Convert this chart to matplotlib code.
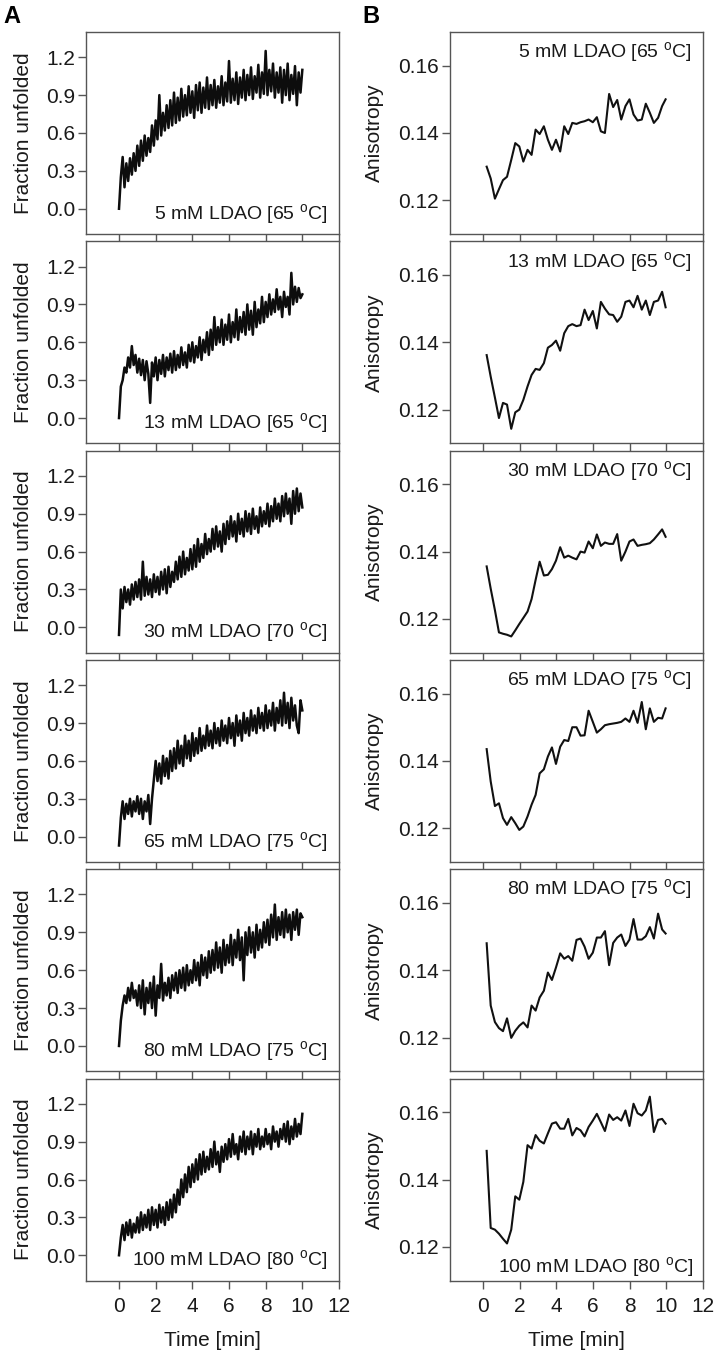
import matplotlib.pyplot as plt
import numpy as np

plt.rcParams['font.family'] = ['Liberation Sans', 'DejaVu Sans']
plt.rcParams['mathtext.fontset'] = 'custom'
plt.rcParams['mathtext.rm'] = 'Liberation Sans'
plt.rcParams['mathtext.it'] = 'Liberation Sans:italic'

conc = ['5', '13', '30', '65', '80', '100']
temps = ['65', '65', '70', '75', '75', '80']

# fraction unfolded traces, sampled every 0.1 min from 0 to 10 min
unf_step = 0.1
unf_5 = [0.00, 0.25, 0.41, 0.17, 0.36, 0.22, 0.40, 0.27, 0.44, 0.30,
         0.50, 0.34, 0.54, 0.38, 0.58, 0.42, 0.56, 0.45, 0.66, 0.50,
         0.70, 0.55, 0.90, 0.58, 0.76, 0.62, 0.82, 0.64, 0.86, 0.66,
         0.92, 0.68, 0.88, 0.70, 0.95, 0.73, 0.90, 0.74, 0.97, 0.76,
         0.93, 0.72, 0.98, 0.78, 1.00, 0.76, 0.96, 0.80, 1.04, 0.79,
         0.98, 0.82, 1.02, 0.80, 0.97, 0.84, 1.05, 0.82, 1.00, 0.85,
         1.17, 0.84, 1.03, 0.86, 1.08, 0.83, 1.04, 0.88, 1.10, 0.86,
         1.06, 0.90, 1.12, 0.87, 1.05, 0.92, 1.14, 0.88, 1.08, 0.91,
         1.25, 0.90, 1.10, 0.93, 1.15, 0.88, 1.08, 0.92, 1.12, 0.84,
         1.10, 0.90, 1.15, 0.86, 1.06, 0.91, 1.13, 0.82, 1.08, 0.92,
         1.10]
unf_13 = [0.00, 0.25, 0.30, 0.40, 0.36, 0.48, 0.40, 0.57, 0.42, 0.50,
          0.36, 0.47, 0.34, 0.46, 0.30, 0.45, 0.35, 0.12, 0.44, 0.33,
          0.48, 0.30, 0.46, 0.35, 0.50, 0.33, 0.48, 0.38, 0.51, 0.36,
          0.53, 0.38, 0.50, 0.40, 0.56, 0.42, 0.52, 0.40, 0.58, 0.45,
          0.60, 0.44, 0.57, 0.48, 0.64, 0.46, 0.62, 0.52, 0.68, 0.50,
          0.70, 0.54, 0.80, 0.58, 0.72, 0.60, 0.78, 0.58, 0.74, 0.62,
          0.82, 0.60, 0.76, 0.64, 0.86, 0.62, 0.80, 0.68, 0.84, 0.66,
          0.90, 0.70, 0.85, 0.66, 0.92, 0.72, 0.86, 0.75, 0.96, 0.76,
          0.92, 0.80, 0.98, 0.82, 0.94, 0.84, 1.02, 0.86, 0.96, 0.80,
          1.00, 0.88, 0.96, 0.82, 1.15, 0.90, 1.04, 0.92, 1.03, 0.95,
          0.98]
unf_30 = [-0.06, 0.30, 0.15, 0.32, 0.20, 0.30, 0.18, 0.34, 0.22, 0.36,
          0.24, 0.38, 0.22, 0.52, 0.25, 0.40, 0.26, 0.38, 0.24, 0.42,
          0.28, 0.40, 0.26, 0.44, 0.30, 0.46, 0.27, 0.48, 0.32, 0.44,
          0.36, 0.52, 0.38, 0.56, 0.40, 0.60, 0.42, 0.55, 0.45, 0.62,
          0.46, 0.65, 0.48, 0.70, 0.52, 0.66, 0.55, 0.74, 0.58, 0.70,
          0.60, 0.78, 0.62, 0.80, 0.64, 0.76, 0.60, 0.82, 0.66, 0.84,
          0.70, 0.88, 0.72, 0.84, 0.68, 0.90, 0.74, 0.86, 0.72, 0.92,
          0.76, 0.90, 0.74, 0.94, 0.78, 0.88, 0.75, 0.95, 0.80, 0.92,
          0.82, 0.98, 0.80, 0.96, 0.84, 1.02, 0.86, 0.98, 0.84, 1.04,
          0.88, 1.06, 0.90, 1.02, 0.82, 1.08, 0.90, 1.10, 0.92, 1.06,
          0.95]
unf_65 = [-0.07, 0.15, 0.28, 0.14, 0.26, 0.18, 0.30, 0.16, 0.28, 0.20,
          0.32, 0.18, 0.30, 0.14, 0.28, 0.20, 0.33, 0.10, 0.30, 0.45,
          0.60, 0.44, 0.58, 0.42, 0.64, 0.48, 0.62, 0.46, 0.68, 0.52,
          0.70, 0.54, 0.76, 0.58, 0.72, 0.56, 0.80, 0.62, 0.76, 0.60,
          0.82, 0.64, 0.78, 0.66, 0.86, 0.68, 0.80, 0.70, 0.88, 0.72,
          0.84, 0.70, 0.90, 0.74, 0.86, 0.72, 0.92, 0.76, 0.88, 0.74,
          0.94, 0.78, 0.90, 0.72, 0.96, 0.80, 0.92, 0.76, 0.98, 0.82,
          0.94, 0.80, 1.00, 0.84, 0.96, 0.82, 1.02, 0.86, 0.98, 0.84,
          1.04, 0.86, 1.00, 0.88, 1.06, 0.84, 1.02, 0.90, 1.08, 0.88,
          1.14, 0.90, 1.06, 0.86, 1.10, 0.92, 1.04, 0.88, 0.82, 1.08,
          1.00]
unf_80 = [0.00, 0.20, 0.32, 0.40, 0.34, 0.46, 0.36, 0.50, 0.38, 0.44,
          0.32, 0.48, 0.30, 0.52, 0.25, 0.46, 0.34, 0.50, 0.30, 0.55,
          0.24, 0.48, 0.38, 0.65, 0.36, 0.50, 0.40, 0.54, 0.38, 0.56,
          0.44, 0.58, 0.42, 0.60, 0.46, 0.62, 0.44, 0.64, 0.48, 0.60,
          0.50, 0.68, 0.52, 0.66, 0.48, 0.72, 0.56, 0.70, 0.54, 0.75,
          0.58, 0.76, 0.60, 0.82, 0.62, 0.78, 0.58, 0.84, 0.64, 0.80,
          0.66, 0.88, 0.64, 0.84, 0.70, 0.92, 0.68, 0.86, 0.52, 0.90,
          0.72, 0.94, 0.74, 0.90, 0.70, 0.96, 0.76, 0.92, 0.78, 0.98,
          0.82, 1.00, 0.80, 1.04, 0.86, 1.12, 0.84, 1.02, 0.88, 1.06,
          0.86, 1.08, 0.90, 1.04, 0.84, 1.06, 0.92, 1.08, 0.88, 1.05,
          1.02]
unf_100 = [0.00, 0.14, 0.24, 0.12, 0.26, 0.16, 0.28, 0.14, 0.25, 0.18,
           0.30, 0.18, 0.34, 0.20, 0.32, 0.22, 0.36, 0.20, 0.38, 0.24,
           0.36, 0.22, 0.40, 0.26, 0.38, 0.24, 0.42, 0.28, 0.44, 0.30,
           0.48, 0.34, 0.52, 0.40, 0.60, 0.46, 0.64, 0.50, 0.70, 0.54,
           0.72, 0.58, 0.76, 0.60, 0.80, 0.64, 0.82, 0.66, 0.78, 0.68,
           0.84, 0.70, 0.90, 0.72, 0.82, 0.66, 0.86, 0.74, 0.88, 0.76,
           0.92, 0.78, 0.96, 0.80, 0.88, 0.76, 0.94, 0.82, 0.98, 0.80,
           0.94, 0.84, 0.98, 0.80, 0.96, 0.86, 1.00, 0.84, 0.94, 0.86,
           1.00, 0.88, 0.96, 0.84, 1.02, 0.90, 0.98, 0.86, 1.00, 0.92,
           1.04, 0.90, 1.06, 0.88, 1.02, 0.92, 1.08, 0.94, 1.04, 0.96,
           1.12]

# anisotropy, 45 time points
aniso_t = [0.20, 0.42, 0.65, 0.87, 1.09, 1.31, 1.54, 1.76, 1.98, 2.20,
           2.43, 2.65, 2.87, 3.09, 3.32, 3.54, 3.76, 3.98, 4.21, 4.43,
           4.65, 4.87, 5.10, 5.32, 5.54, 5.76, 5.99, 6.21, 6.43, 6.65,
           6.88, 7.10, 7.32, 7.54, 7.77, 7.99, 8.21, 8.43, 8.66, 8.88,
           9.10, 9.32, 9.55, 9.77, 9.96]
aniso_5 = [0.1300, 0.1265, 0.1205, 0.1233, 0.1260, 0.1270, 0.1320, 0.1370, 0.1360,
           0.1315, 0.1350, 0.1335, 0.1410, 0.1397, 0.1420, 0.1380, 0.1350, 0.1380,
           0.1345, 0.1420, 0.1397, 0.1430, 0.1427, 0.1432, 0.1435, 0.1440, 0.1432,
           0.1447, 0.1405, 0.1400, 0.1516, 0.1477, 0.1498, 0.1440, 0.1480, 0.1500,
           0.1455, 0.1437, 0.1440, 0.1487, 0.1460, 0.1430, 0.1445, 0.1480, 0.1500]
aniso_13 = [0.1362, 0.1298, 0.1236, 0.1175, 0.1220, 0.1215, 0.1143, 0.1192, 0.1200,
            0.1229, 0.1269, 0.1303, 0.1321, 0.1318, 0.1338, 0.1384, 0.1392, 0.1405,
            0.1375, 0.1427, 0.1448, 0.1454, 0.1448, 0.1451, 0.1497, 0.1466, 0.1493,
            0.1441, 0.1520, 0.1500, 0.1483, 0.1481, 0.1461, 0.1476, 0.1520, 0.1524,
            0.1504, 0.1538, 0.1497, 0.1524, 0.1481, 0.1520, 0.1524, 0.1550, 0.1504]
aniso_30 = [0.1356, 0.1290, 0.1226, 0.1160, 0.1156, 0.1153, 0.1148, 0.1166, 0.1185,
            0.1203, 0.1222, 0.1259, 0.1316, 0.1370, 0.1329, 0.1331, 0.1348, 0.1373,
            0.1413, 0.1382, 0.1388, 0.1382, 0.1377, 0.1400, 0.1397, 0.1430, 0.1410,
            0.1451, 0.1417, 0.1427, 0.1423, 0.1423, 0.1452, 0.1373, 0.1400, 0.1430,
            0.1436, 0.1417, 0.1420, 0.1422, 0.1425, 0.1436, 0.1451, 0.1466, 0.1444]
aniso_65 = [0.1435, 0.1339, 0.1266, 0.1274, 0.1230, 0.1210, 0.1233, 0.1215, 0.1195,
            0.1205, 0.1235, 0.1270, 0.1299, 0.1363, 0.1375, 0.1413, 0.1440, 0.1391,
            0.1442, 0.1462, 0.1459, 0.1500, 0.1500, 0.1475, 0.1476, 0.1549, 0.1516,
            0.1484, 0.1494, 0.1506, 0.1509, 0.1511, 0.1513, 0.1516, 0.1526, 0.1516,
            0.1549, 0.1513, 0.1575, 0.1494, 0.1556, 0.1516, 0.1528, 0.1526, 0.1556]
aniso_80 = [0.1480, 0.1295, 0.1246, 0.1228, 0.1219, 0.1257, 0.1199, 0.1220, 0.1235,
            0.1245, 0.1230, 0.1295, 0.1280, 0.1319, 0.1339, 0.1393, 0.1371, 0.1408,
            0.1450, 0.1434, 0.1442, 0.1428, 0.1490, 0.1494, 0.1470, 0.1434, 0.1452,
            0.1497, 0.1497, 0.1516, 0.1415, 0.1481, 0.1497, 0.1506, 0.1472, 0.1491,
            0.1552, 0.1491, 0.1491, 0.1501, 0.1528, 0.1494, 0.1568, 0.1521, 0.1509]
aniso_100 = [0.1485, 0.1256, 0.1251, 0.1239, 0.1224, 0.1210, 0.1251, 0.1350, 0.1340,
             0.1393, 0.1502, 0.1492, 0.1532, 0.1515, 0.1507, 0.1537, 0.1566, 0.1570,
             0.1551, 0.1551, 0.1580, 0.1531, 0.1553, 0.1546, 0.1528, 0.1556, 0.1575,
             0.1595, 0.1570, 0.1544, 0.1593, 0.1577, 0.1585, 0.1575, 0.1605, 0.1559,
             0.1625, 0.1597, 0.1590, 0.1605, 0.1646, 0.1541, 0.1577, 0.1580, 0.1566]

unfolded = [unf_5, unf_13, unf_30, unf_65, unf_80, unf_100]
anisotropy = [aniso_5, aniso_13, aniso_30, aniso_65, aniso_80, aniso_100]

W, H = 718, 1357
fig = plt.figure(figsize=(W / 100, H / 100), dpi=100)

top0, pitch, ph = 32, 209.3, 202
lefts = [86, 450]
pw = 253
spine_col = '#555555'
txt_col = '#1a1a1a'


def style(ax):
    for s in ax.spines.values():
        s.set_color(spine_col)
        s.set_linewidth(1.0)
    ax.tick_params(direction='out', length=6, width=1.0, color=spine_col,
                   labelsize=15, labelcolor=txt_col, pad=2)
    ax.tick_params(axis='x', pad=6)
    ax.set_xlim(-1.8, 12)
    ax.set_xticks(range(0, 13, 2))


for i in range(6):
    bottom = 1 - (top0 + i * pitch + ph) / H
    label = f'{conc[i]} mM LDAO [{temps[i]} $^{{\\mathrm{{o}}}}$C]'

    ax = fig.add_axes([lefts[0] / W, bottom, pw / W, ph / H])
    t = np.arange(len(unfolded[i])) * unf_step
    ax.plot(t, unfolded[i], color='#0d0d0d', lw=1.8)
    style(ax)
    ax.set_ylim(-0.2, 1.4)
    ax.set_yticks([0.0, 0.3, 0.6, 0.9, 1.2])
    ax.set_yticklabels(['0.0', '0.3', '0.6', '0.9', '1.2'])
    ax.set_ylabel('Fraction unfolded', fontsize=15, color=txt_col, labelpad=9)
    ax.text(0.955, 0.075, label, transform=ax.transAxes, ha='right',
            va='baseline', fontsize=14, color=txt_col)

    ax2 = fig.add_axes([lefts[1] / W, bottom, pw / W, ph / H])
    ax2.plot(aniso_t, anisotropy[i], color='#111111', lw=1.5)
    style(ax2)
    ax2.set_ylim(0.11, 0.17)
    ax2.set_yticks([0.12, 0.14, 0.16])
    ax2.set_yticklabels(['0.12', '0.14', '0.16'])
    ax2.set_ylabel('Anisotropy', fontsize=15, color=txt_col, labelpad=10)
    if i == 5:
        ax2.text(0.96, 0.04, label, transform=ax2.transAxes, ha='right',
                 va='baseline', fontsize=14, color=txt_col)
    else:
        ax2.text(0.955, 0.875, label, transform=ax2.transAxes, ha='right',
                 va='baseline', fontsize=14, color=txt_col)

    if i == 5:
        ax.set_xlabel('Time [min]', fontsize=15, color=txt_col, labelpad=11)
        ax2.set_xlabel('Time [min]', fontsize=15, color=txt_col, labelpad=11)
    else:
        ax.tick_params(axis='x', labelbottom=False)
        ax2.tick_params(axis='x', labelbottom=False)

fig.text(3 / W, 1 - 5 / H, 'A', fontsize=17, fontweight='bold', va='top', ha='left')
fig.text(362 / W, 1 - 5 / H, 'B', fontsize=17, fontweight='bold', va='top', ha='left')

fig.savefig('out.png', dpi=100)
